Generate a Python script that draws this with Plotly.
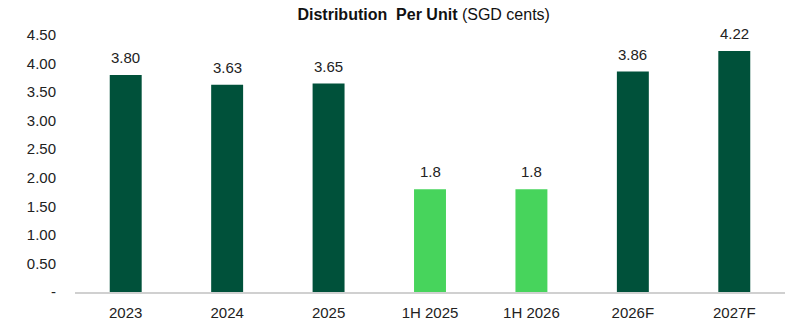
import plotly.graph_objects as go

categories = ["2023", "2024", "2025", "1H 2025", "1H 2026", "2026F", "2027F"]
values = [3.80, 3.63, 3.65, 1.8, 1.8, 3.86, 4.22]
labels = ["3.80", "3.63", "3.65", "1.8", "1.8", "3.86", "4.22"]
is_half = [False, False, False, True, True, False, False]
ytick_vals = [0, 0.5, 1.0, 1.5, 2.0, 2.5, 3.0, 3.5, 4.0, 4.5]
ytick_text = ["-", "0.50", "1.00", "1.50", "2.00", "2.50", "3.00", "3.50", "4.00", "4.50"]

dark = "#00513A"
light = "#47D45C"
colors = [light if h else dark for h in is_half]

fig = go.Figure(go.Bar(
    x=categories, y=values,
    marker=dict(color=colors, line=dict(width=0)),
))
for i, (v, t) in enumerate(zip(values, labels)):
    fig.add_annotation(x=i, y=v, text=t, showarrow=False, yanchor="bottom",
                       yshift=7, font=dict(size=15, color="#222222"))
fig.update_layout(
    width=789, height=328,
    margin=dict(l=75, r=4, t=35, b=36),
    paper_bgcolor="white", plot_bgcolor="white",
    font=dict(family="Liberation Sans, Arial, sans-serif", size=15, color="#222222"),
    bargap=0.685, showlegend=False,
    title=dict(text="<b>Distribution  Per Unit</b> (SGD cents)", x=0.537, xanchor="center",
               y=0.957, yanchor="middle", font=dict(size=16, color="#111111")),
)
fig.update_xaxes(type="category", categoryorder="array", categoryarray=categories,
                 range=[-0.5, len(categories) - 0.5],
                 showline=True, linecolor="#D0D0D0", linewidth=1.5, ticks="",
                 showgrid=False, ticklabelstandoff=6)
fig.update_yaxes(range=[0, 4.5], tickvals=ytick_vals, ticktext=ytick_text,
                 showgrid=False, zeroline=False, showline=False, ticks="",
                 ticklabelstandoff=18)
fig.write_html("out.html")
